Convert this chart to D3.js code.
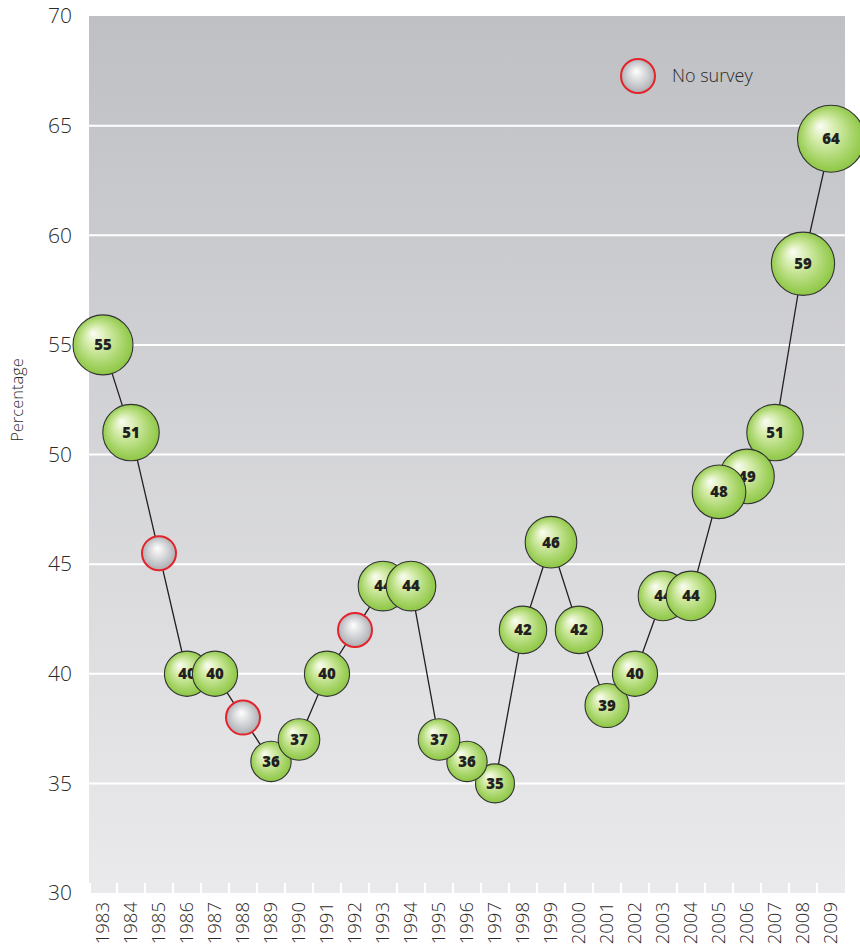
<!DOCTYPE html>
<html>
<head>
<meta charset="utf-8">
<script src="https://cdn.jsdelivr.net/npm/d3@7"></script>
<style>
  body { margin: 0; background: #fff; }
  text { font-family: "Open Sans", sans-serif; }
</style>
</head>
<body>
<svg id="chart" width="860" height="948"></svg>
<script>
// years on the x axis
var years = [1983, 1984, 1985, 1986, 1987, 1988, 1989, 1990, 1991, 1992, 1993, 1994, 1995, 1996,
             1997, 1998, 1999, 2000, 2001, 2002, 2003, 2004, 2005, 2006, 2007, 2008, 2009]
// percentage (position of bubble)
var values = [55, 51, 45.5, 40, 40, 38, 36, 37, 40, 42, 44, 44, 37, 36,
              35, 42, 46, 42, 38.55, 40, 43.55, 43.55, 48.3, 49, 51, 58.7, 64.4]
// false = no survey that year
var surveyed = [true, true, false, true, true, false, true, true, true, false, true, true, true, true,
                true, true, true, true, true, true, true, true, true, true, true, true, true]
var yTicks = [30, 35, 40, 45, 50, 55, 60, 65, 70]

var margins = {"left": 89, "right": 15, "top": 16, "bottom": 55}
var width = 860 - margins.left - margins.right
var height = 948 - margins.top - margins.bottom

var data = years.map(function(y, i){
  return {"year": y, "value": values[i], "surveyed": surveyed[i]}
})

var svg = d3.select("#chart")
var defs = svg.append("defs")

var bg = defs.append("linearGradient").attr("id", "bg")
  .attr("x1", 0).attr("y1", 0).attr("x2", 0).attr("y2", 1)
bg.append("stop").attr("offset", "0%").attr("stop-color", "#bfc0c4")
bg.append("stop").attr("offset", "100%").attr("stop-color", "#eaeaec")

var green = defs.append("radialGradient").attr("id", "green")
  .attr("cx", "50%").attr("cy", "50%").attr("r", "55%")
  .attr("fx", "33%").attr("fy", "30%")
green.append("stop").attr("offset", "0%").attr("stop-color", "#fbfdf5")
green.append("stop").attr("offset", "35%").attr("stop-color", "#d3eba9")
green.append("stop").attr("offset", "75%").attr("stop-color", "#a2d261")
green.append("stop").attr("offset", "100%").attr("stop-color", "#86c23b")

var grey = defs.append("radialGradient").attr("id", "grey")
  .attr("cx", "50%").attr("cy", "50%").attr("r", "55%")
  .attr("fx", "45%").attr("fy", "35%")
grey.append("stop").attr("offset", "0%").attr("stop-color", "#ffffff")
grey.append("stop").attr("offset", "60%").attr("stop-color", "#cbccd0")
grey.append("stop").attr("offset", "100%").attr("stop-color", "#a5a7ab")

var g = svg.append("g")
  .attr("transform", "translate(" + margins.left + "," + margins.top + ")")

var xScale = d3.scaleBand()
  .domain(years)
  .range([0, width])
  .padding(0)

var yScale = d3.scaleLinear()
  .domain([30, 70])
  .range([height, 0])

// bubble size grows with the value
var rScale = d3.scaleLog()
  .domain([35, 64])
  .range([19.5, 33.5])

function cx(d){ return xScale(d.year) + xScale.bandwidth() / 2 }

// background
g.append("rect")
  .attr("x", 0).attr("y", 0)
  .attr("width", width).attr("height", height)
  .attr("fill", "url(#bg)")

// grid lines
g.selectAll(".grid")
  .data(yTicks.filter(function(t){ return t > 30 && t < 70 }))
  .enter()
  .append("line")
  .attr("class", "grid")
  .attr("x1", 0).attr("x2", width)
  .attr("y1", function(d){ return yScale(d) })
  .attr("y2", function(d){ return yScale(d) })
  .attr("stroke", "#fff")
  .attr("stroke-width", 2)

// white separators at the bottom between years
g.selectAll(".sep")
  .data(years.slice(1))
  .enter()
  .append("line")
  .attr("class", "sep")
  .attr("x1", function(d){ return xScale(d) })
  .attr("x2", function(d){ return xScale(d) })
  .attr("y1", height - 10).attr("y2", height)
  .attr("stroke", "#fff")
  .attr("stroke-width", 2)
g.append("rect")
  .attr("x", -1).attr("y", height - 10).attr("width", 3).attr("height", 10).attr("fill", "#fff")

// y axis labels
g.selectAll(".ylab")
  .data(yTicks)
  .enter()
  .append("text")
  .attr("class", "ylab")
  .attr("x", -17)
  .attr("y", function(d){ return yScale(d) })
  .attr("dy", "0.35em")
  .attr("text-anchor", "end")
  .attr("font-size", "21px")
  .attr("font-weight", 300)
  .attr("fill", "#2a2a2a")
  .text(function(d){ return d })

svg.append("text")
  .attr("transform", "translate(23,400) rotate(-90)")
  .attr("text-anchor", "middle")
  .attr("font-size", "16.5px")
  .attr("font-weight", 300)
  .attr("fill", "#2a2a2a")
  .text("Percentage")

// x axis labels
g.selectAll(".xlab")
  .data(years)
  .enter()
  .append("text")
  .attr("class", "xlab")
  .attr("transform", function(d){
    return "translate(" + (xScale(d) + xScale.bandwidth() / 2) + "," + (height + 9) + ") rotate(-90)" })
  .attr("dy", "0.35em")
  .attr("text-anchor", "end")
  .attr("font-size", "18.5px")
  .attr("font-weight", 300)
  .attr("fill", "#2a2a2a")
  .text(function(d){ return d })

// connecting line
var line = d3.line()
  .x(cx)
  .y(function(d){ return yScale(d.value) })

g.append("path")
  .datum(data)
  .attr("d", line)
  .attr("fill", "none")
  .attr("stroke", "#231f20")
  .attr("stroke-width", 1.3)

// drawing order: in the falling 1995-97 and rising 2005-07 runs the earlier bubble sits on top
function zKey(d){
  if (d.year >= 1995 && d.year <= 1997) return 1995 + 1997 - d.year
  if (d.year >= 2005 && d.year <= 2007) return 2005 + 2007 - d.year
  return d.year
}
var ordered = data.slice().sort(function(a, b){ return zKey(a) - zKey(b) })

var bubbles = g.selectAll(".bubble")
  .data(ordered)
  .enter()
  .append("g")
  .attr("class", "bubble")
  .attr("transform", function(d){ return "translate(" + cx(d) + "," + yScale(d.value) + ")" })

bubbles.append("circle")
  .attr("r", function(d){ return d.surveyed ? rScale(Math.round(d.value)) : 17 })
  .attr("fill", function(d){ return d.surveyed ? "url(#green)" : "url(#grey)" })
  .attr("stroke", function(d){ return d.surveyed ? "#333" : "#e3242b" })
  .attr("stroke-width", function(d){ return d.surveyed ? 1.1 : 2 })

bubbles.filter(function(d){ return d.surveyed })
  .append("text")
  .attr("text-anchor", "middle")
  .attr("dy", "0.36em")
  .attr("font-size", "15px")
  .attr("font-weight", 800)
  .attr("fill", "#231f20")
  .text(function(d){ return Math.round(d.value) })

// legend
var legend = svg.append("g").attr("transform", "translate(638,76)")
legend.append("circle")
  .attr("r", 17)
  .attr("fill", "url(#grey)")
  .attr("stroke", "#e3242b")
  .attr("stroke-width", 2)
legend.append("text")
  .attr("x", 34)
  .attr("dy", "0.36em")
  .attr("font-size", "18px")
  .attr("font-weight", 300)
  .attr("fill", "#2a2a2a")
  .text("No survey")
</script>
</body>
</html>
